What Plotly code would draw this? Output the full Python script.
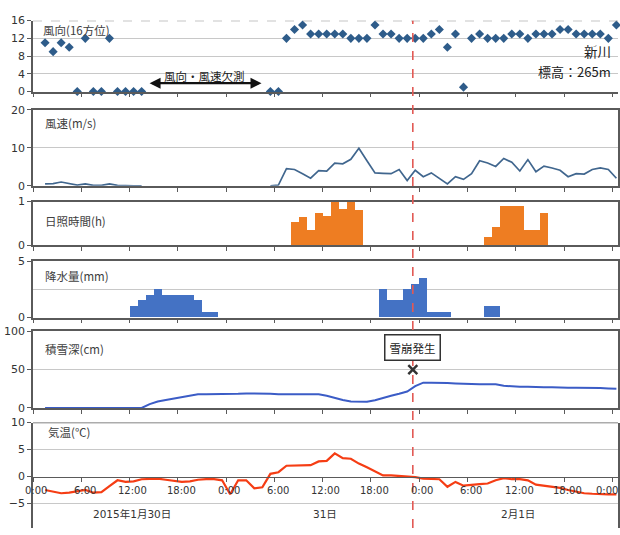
import plotly.graph_objects as go

# ---------------- data (hourly slots since 2015-01-30 0:00) ----------------
slots = list(range(1, 73))

wind_dir = [11, 9, 11, 10, 0, 12, 0, 0, 12, 0, 0, 0, 0,
            None, None, None, None, None, None, None, None, None, None, None, None, None, None, None,
            0, 0, 12, 14, 15, 13, 13, 13, 13, 13, 12, 12, 12, 15, 13, 13, 12, 12, 12, 12,
            13, 14, 10, 13, 1, 12, 13, 12, 12, 12, 13, 13, 12, 13, 13, 13, 14, 14, 13, 13,
            13, 13, 12, 15]

wind_speed = [0.5, 0.6, 1.0, 0.6, 0.2, 0.5, 0.1, 0.1, 0.5, 0.1, 0, 0, 0,
              None, None, None, None, None, None, None, None, None, None, None, None, None, None, None,
              0, 0.2, 4.5, 4.3, 3.2, 2.0, 4.0, 3.9, 6.0, 5.8, 7.0, 9.9, 6.6, 3.4, 3.3, 3.2,
              4.3, 1.4, 4.1, 2.4, 3.4, 2.0, 0.5, 2.4, 1.7, 3.2, 6.6, 6.0, 5.1, 7.2, 6.2, 3.9,
              6.9, 3.7, 5.2, 4.7, 4.1, 2.4, 3.2, 3.1, 4.3, 4.7, 4.3, 2.0]

sun_slots = [32, 33, 34, 35, 36, 37, 38, 39, 40, 56, 57, 58, 59, 60, 61, 62, 63]
sun_hours = [0.55, 0.65, 0.35, 0.75, 0.68, 1.0, 0.85, 1.0, 0.82,
             0.2, 0.42, 0.92, 0.92, 0.92, 0.35, 0.35, 0.75]

precip_slots = [12, 13, 14, 15, 16, 17, 18, 19, 20, 21, 22,
                43, 44, 45, 46, 47, 48, 49, 50, 51, 56, 57]
precip_mm = [1.0, 1.5, 2.0, 2.5, 2.0, 2.0, 2.0, 2.0, 1.5, 0.5, 0.5,
             2.5, 1.5, 1.5, 2.5, 3.0, 3.5, 0.5, 0.5, 0.5, 1.0, 1.0]

snow_depth = [0, 0, 0, 0, 0, 0, 0, 0, 0, 0, 0, 0, 0,
              5, 8.5, 10.5, 12.5, 13.5, 16, 18, 18, 18, 18, 18, 18.5, 19, 19, 19, 18.5, 18,
              18, 18, 18, 18, 18, 16, 13, 10.5, 8.5, 8.5, 8, 10, 13.5, 16, 18.5, 21.5,
              28.5, 33, 33, 33, 32.5, 32, 31.5, 31, 31, 31, 31, 29, 28, 27.5, 27.5, 27,
              27, 27, 26.5, 26.5, 26.5, 26.5, 26.5, 26, 25.5, 25]

temperature = [-2.5, -2.8, -3.1, -3.0, -2.8, -2.5, -3.0, -2.9, -1.8, -0.7,
               -1.0, -0.9, -0.5, -0.4, -0.4, -0.6, -0.8, -1.0, -0.9, -0.6,
               -0.5, -0.5, -0.7, -3.3, -0.7, -0.7, -2.2, -2.0, 0.5, 0.8,
               2.0, 2.0, 2.0, 2.1, 2.8, 2.9, 4.3, 3.4, 3.3, 2.4,
               1.7, 1.0, 0.2, 0.2, 0.1, 0.0, -0.1, -0.4, -0.5, -0.5,
               -1.9, -1.0, -1.7, -1.5, -1.4, -1.3, -0.7, -0.3, -0.5, -0.5,
               -0.7, -1.5, -1.7, -1.8, -2.1, -2.5, -2.8, -3.1, -3.2, -3.3,
               -3.3, -3.3]

avalanche_time = 47.2
avalanche_depth_mark = 50

time_tick_hours = [0, 6, 12, 18, 24, 30, 36, 42, 48, 54, 60, 66, 72]
time_tick_labels = ["0:00", "6:00", "12:00", "18:00", "0:00", "6:00", "12:00",
                    "18:00", "0:00", "6:00", "12:00", "18:00", "0:00"]
date_hours = [12, 36, 60]
date_labels = ["2015年1月30日", "31日", "2月1日"]

missing_start, missing_end = 14.3, 28.4

# ---------------- layout helpers ----------------
W, H = 620, 535
L, R = 33, 2
PW = W - L - R


def py(p):
    return 1 - p / H


def pxx(p):
    return (p - L) / PW


xc = [k + 0.5 for k in slots]
sun_x = [k + 0.5 for k in sun_slots]
precip_x = [k + 0.5 for k in precip_slots]

FONT = "Noto Sans CJK JP, Noto Sans, sans-serif"
NUMFONT = "DejaVu Sans, Noto Sans CJK JP, sans-serif"
BORDER = "#5a5a5a"
GRID = "#c8c8c8"

fig = go.Figure()

fig.add_trace(go.Scatter(x=xc, y=wind_dir, mode="markers", xaxis="x", yaxis="y",
                         marker=dict(symbol="diamond", size=7, color="#2E5C8A"),
                         cliponaxis=False, showlegend=False))
fig.add_trace(go.Scatter(x=xc, y=wind_speed, mode="lines", xaxis="x2", yaxis="y2",
                         line=dict(color="#40668E", width=1.7), connectgaps=False,
                         showlegend=False))
fig.add_trace(go.Bar(x=sun_x, y=sun_hours, width=1, xaxis="x3", yaxis="y3",
                     marker=dict(color="#EE7D22", line=dict(width=0)), showlegend=False))
fig.add_trace(go.Bar(x=precip_x, y=precip_mm, width=1, xaxis="x4", yaxis="y4",
                     marker=dict(color="#4472C4", line=dict(width=0)), showlegend=False))
fig.add_trace(go.Scatter(x=xc, y=snow_depth, mode="lines", xaxis="x5", yaxis="y5",
                         line=dict(color="#3B5CC6", width=2), showlegend=False))
fig.add_trace(go.Scatter(x=[avalanche_time], y=[avalanche_depth_mark], mode="markers",
                         xaxis="x5", yaxis="y5",
                         marker=dict(symbol="x-thin", size=9, line=dict(width=2.5, color="#333")),
                         cliponaxis=False, showlegend=False))
fig.add_trace(go.Scatter(x=xc, y=temperature, mode="lines", xaxis="x6", yaxis="y6",
                         line=dict(color="#F53D14", width=2.2), showlegend=False))

XR = [0, 72.7]
panels = [  # (top px, bottom px, range, tickvals, gridvals)
    (15, 87.7, [0, 16], [0, 4, 8, 12, 16], [4, 8, 12]),
    (106.5, 184.3, [0, 20], [0, 10, 20], [10]),
    (200.5, 245.4, [0, 1], [0, 1], []),
    (261.5, 319.3, [0, 5], [0, 5], [2.5]),
    (333.3, 412.0, [0, 100], [0, 50, 100], [50]),
]

layout = dict(width=W, height=H, margin=dict(l=L, r=R, t=0, b=0),
              plot_bgcolor="white", paper_bgcolor="white", bargap=0,
              font=dict(family=FONT, size=11, color="#333"))

for i, (top, bot, yr, tv, gv) in enumerate(panels):
    n = "" if i == 0 else str(i + 1)
    mirror = i > 0
    layout["xaxis" + n] = dict(range=XR, domain=[0, 1], anchor="y" + n,
                               tickvals=list(range(0, 73, 6)), showticklabels=False,
                               ticks="outside", ticklen=4, tickcolor=BORDER, showgrid=False,
                               zeroline=False, showline=True, linecolor=BORDER, linewidth=1.5,
                               mirror=mirror, fixedrange=True)
    layout["yaxis" + n] = dict(range=yr, domain=[py(bot), py(top)], anchor="x" + n,
                               tickvals=tv, ticks="outside", ticklen=4, tickcolor=BORDER,
                               showgrid=False, zeroline=False, showline=True,
                               linecolor=BORDER, linewidth=1.5, mirror=mirror,
                               tickfont=dict(family=NUMFONT, size=11, color="#333"),
                               minor=dict(tickvals=gv, showgrid=True, gridcolor=GRID,
                                          gridwidth=1, ticks=""),
                               fixedrange=True)

# temperature panel
layout["xaxis6"] = dict(range=XR, domain=[0, 1], anchor="free", position=py(482.7),
                        tickvals=list(range(0, 73, 6)), showticklabels=False,
                        ticks="outside", ticklen=4, tickcolor=BORDER, showgrid=False,
                        zeroline=False, showline=True, linecolor=BORDER, linewidth=1.3,
                        fixedrange=True)
layout["yaxis6"] = dict(range=[-9.55, 10], domain=[0, py(427)], anchor="x6",
                        tickvals=[-10, -5, 0, 5, 10], ticks="outside", ticklen=4,
                        tickcolor=BORDER, showgrid=False, zeroline=False, showline=True,
                        linecolor=BORDER, linewidth=1.5, mirror=True,
                        tickfont=dict(family=NUMFONT, size=11, color="#333"),
                        minor=dict(tickvals=[-5, 5], showgrid=True, gridcolor=GRID,
                                   gridwidth=1, ticks=""),
                        fixedrange=True)

shapes = [
    dict(type="line", xref="x domain", yref="y", x0=0, x1=1, y0=16, y1=16,
         line=dict(color="#8a8a8a", width=1.3, dash="dash")),
    dict(type="line", xref="x6 domain", yref="y6", x0=0, x1=1, y0=10, y1=10,
         line=dict(color=BORDER, width=1.5)),
    dict(type="line", xref="x", yref="paper", x0=avalanche_time, x1=avalanche_time,
         y0=0, y1=py(15), layer="above",
         line=dict(color="#E25A55", width=1.6, dash="dash")),
]
layout["shapes"] = shapes

ann = []
titles = [("風向(16方位)", 41, 25, 11.5), ("風速(m/s)", 43, 120, 11.5),
          ("日照時間(h)", 43, 220, 11.5), ("降水量(mm)", 43, 277, 11.5),
          ("積雪深(cm)", 43, 352, 11.5), ("気温(℃)", 46, 437, 11.5)]
for t, x, y, s in titles:
    ann.append(dict(text=t, xref="paper", yref="paper", x=pxx(x), y=py(y),
                    xanchor="left", yanchor="middle", showarrow=False,
                    font=dict(family=FONT, size=s, color="#404040")))

ann.append(dict(text="新川", xref="paper", yref="paper", x=pxx(613), y=py(46),
                xanchor="right", yanchor="middle", showarrow=False,
                font=dict(family=FONT, size=13.5, color="#222")))
ann.append(dict(text="標高：265m", xref="paper", yref="paper", x=pxx(613), y=py(67),
                xanchor="right", yanchor="middle", showarrow=False,
                font=dict(family=FONT, size=13, color="#222")))

ann.append(dict(text="風向・風速欠測", xref="x", yref="y",
                x=(missing_start + missing_end) / 2, y=3.6, showarrow=False,
                xanchor="center", yanchor="middle",
                font=dict(family=FONT, size=11.5, color="#222")))
ann.append(dict(text="", xref="x", yref="y", x=missing_end, y=1.9,
                ax=missing_start, ay=1.9, axref="x", ayref="y", showarrow=True,
                arrowside="end+start", arrowhead=2, arrowsize=1, arrowwidth=2.2,
                arrowcolor="#111", standoff=0, startstandoff=0))

ann.append(dict(text="雪崩発生", xref="x5", yref="y5", x=avalanche_time, y=79,
                showarrow=False, xanchor="center", yanchor="middle",
                bgcolor="white", bordercolor="#333", borderwidth=1.5, borderpad=4,
                font=dict(family=FONT, size=11.5, color="#222")))

n_labels = len(time_tick_hours)
for idx, (h, lab) in enumerate(zip(time_tick_hours, time_tick_labels)):
    last = idx == n_labels - 1
    if last:
        ann.append(dict(text=lab, xref="paper", yref="paper", x=pxx(619.5), y=py(497),
                        showarrow=False, xanchor="right", yanchor="middle",
                        font=dict(family=NUMFONT, size=10, color="#333")))
    else:
        ann.append(dict(text=lab, xref="x6", yref="paper", x=h + 0.4, y=py(497),
                        showarrow=False, xanchor="center", yanchor="middle",
                        font=dict(family=NUMFONT, size=10, color="#333")))
for h, lab in zip(date_hours, date_labels):
    ann.append(dict(text=lab, xref="x6", yref="paper", x=h + 0.3, y=py(521),
                    showarrow=False, xanchor="center", yanchor="middle",
                    font=dict(family=NUMFONT, size=10.5, color="#333")))

layout["annotations"] = ann
fig.update_layout(**layout)

fig.write_html("out.html", config={"displayModeBar": False},
               post_script="document.body.style.margin='0';document.body.style.overflow='hidden';")
